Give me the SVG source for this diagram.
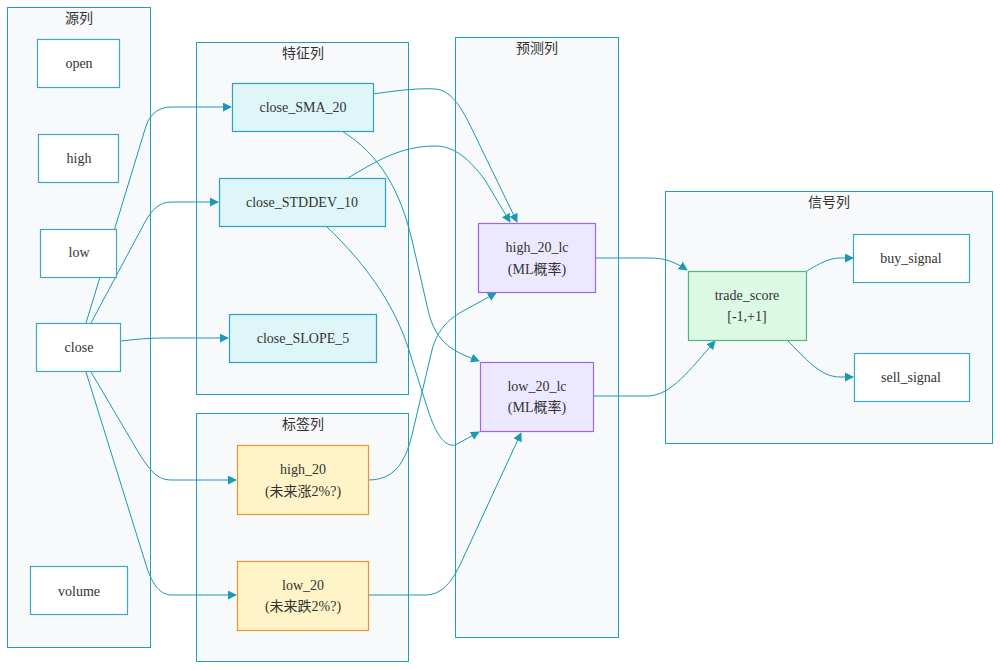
<svg xmlns="http://www.w3.org/2000/svg" width="1000" height="670" viewBox="0 0 1000 670">
<style>
.cl{fill:#f8f9fb;stroke:#1f9fba;stroke-width:1}
.ct{font-family:"Noto Sans CJK SC","Liberation Sans",sans-serif;font-size:14px;fill:#333;text-anchor:middle}
.n rect{stroke-width:1.2}
.src{fill:#ffffff;stroke:#3aaac4}
.feat{fill:#dff6f8;stroke:#2aa3bd}
.lab{fill:#fff3c8;stroke:#e8962e}
.pred{fill:#ece8ff;stroke:#a066e8}
.score{fill:#dcf9e6;stroke:#4cbb7a}
.t{font-family:'Liberation Serif','Times New Roman','Noto Sans CJK SC',serif;font-size:14px;fill:#333;text-anchor:middle}
.e{fill:none;stroke:#1a98b4;stroke-width:1;marker-end:url(#ah)}
</style>
<defs>
<marker id="ah" viewBox="0 0 10 10" refX="9" refY="5" markerWidth="9" markerHeight="9" markerUnits="userSpaceOnUse" orient="auto">
<path d="M0,0 L10,5 L0,10 z" fill="#1a98b4"/>
</marker>
</defs>
<rect width="1000" height="670" fill="#ffffff"/>
<g id="clusters">
<g id="c-src"><rect class="cl" x="7.5" y="7.5" width="143" height="640"/><text class="ct" x="79" y="23">源列</text></g>
<g id="c-feat"><rect class="cl" x="196.5" y="42.5" width="212" height="352"/><text class="ct" x="303" y="58">特征列</text></g>
<g id="c-lab"><rect class="cl" x="196.5" y="413.5" width="212" height="248"/><text class="ct" x="303" y="429">标签列</text></g>
<g id="c-pred"><rect class="cl" x="455.5" y="37.5" width="163" height="600"/><text class="ct" x="537" y="53">预测列</text></g>
<g id="c-sig"><rect class="cl" x="665.5" y="191.5" width="327" height="252"/><text class="ct" x="829" y="207">信号列</text></g>
</g>
<g id="edges">
<path class="e" d="M86,323 L146,126 C151,112 160,107 172,107 L231,107"/>
<path class="e" d="M91,323 L145,222 C153,208 160,202 172,202 L218,202"/>
<path class="e" d="M121,341 C138,339 150,338 165,338 L228,338"/>
<path class="e" d="M91,372 L140,455 C152,473 158,480 172,480 L236,480"/>
<path class="e" d="M86,372 L147,568 C153,585 160,595 172,595 L236,595"/>
<path class="e" d="M373,94 C400,90 420,88 435,89 C450,90 460,105 470,125 L517,222"/>
<path class="e" d="M348,178 C375,162 400,146 435,146 C455,146 470,160 485,180 L510,222"/>
<path class="e" d="M342,131 C380,155 400,190 412,240 L428,310 C436,345 455,352 479,361"/>
<path class="e" d="M326,226 C370,268 398,310 412,360 L428,410 C436,435 445,447 455,445 L479,432"/>
<path class="e" d="M368,480 C395,480 405,462 412,435 L432,350 C438,328 450,318 465,310 L496,293"/>
<path class="e" d="M368,595 L425,595 C440,595 450,585 460,565 L521,433"/>
<path class="e" d="M596,258 L650,258 C665,258 675,262 687,270"/>
<path class="e" d="M594,396 L648,396 C670,396 690,370 715,341"/>
<path class="e" d="M807,271 C820,263 830,258 840,258 L853,258"/>
<path class="e" d="M787,340 C805,358 820,377 840,377 L853,377"/>
</g>
<g id="n-open" class="n"><rect class="src" x="37.5" y="39.5" width="82" height="48"/><text class="t" x="79" y="68">open</text></g>
<g id="n-high" class="n"><rect class="src" x="38.5" y="134.5" width="80" height="48"/><text class="t" x="79" y="163">high</text></g>
<g id="n-low" class="n"><rect class="src" x="40.5" y="229.5" width="76" height="48"/><text class="t" x="79" y="257">low</text></g>
<g id="n-close" class="n"><rect class="src" x="36.5" y="323.5" width="84" height="48"/><text class="t" x="79" y="352">close</text></g>
<g id="n-volume" class="n"><rect class="src" x="30.5" y="566.5" width="97" height="48"/><text class="t" x="79" y="596">volume</text></g>
<g id="n-sma" class="n"><rect class="feat" x="232.5" y="83.5" width="141" height="48"/><text class="t" x="303" y="112">close_SMA_20</text></g>
<g id="n-std" class="n"><rect class="feat" x="219.5" y="178.5" width="166" height="48"/><text class="t" x="302" y="207">close_STDDEV_10</text></g>
<g id="n-slope" class="n"><rect class="feat" x="229.5" y="314.5" width="147" height="48"/><text class="t" x="303" y="343">close_SLOPE_5</text></g>
<g id="n-high20" class="n"><rect class="lab" x="237.5" y="445.5" width="131" height="69"/><text class="t" x="303" y="474">high_20</text><text class="t" x="303" y="496">(未来涨2%?)</text></g>
<g id="n-low20" class="n"><rect class="lab" x="237.5" y="561.5" width="131" height="69"/><text class="t" x="303" y="590">low_20</text><text class="t" x="303" y="611">(未来跌2%?)</text></g>
<g id="n-high20lc" class="n"><rect class="pred" x="478.5" y="223.5" width="117" height="69"/><text class="t" x="537" y="252">high_20_lc</text><text class="t" x="537" y="274">(ML概率)</text></g>
<g id="n-low20lc" class="n"><rect class="pred" x="480.5" y="362.5" width="113" height="69"/><text class="t" x="537" y="391">low_20_lc</text><text class="t" x="537" y="412">(ML概率)</text></g>
<g id="n-score" class="n"><rect class="score" x="688.5" y="271.5" width="118" height="69"/><text class="t" x="747" y="300">trade_score</text><text class="t" x="747" y="321">[-1,+1]</text></g>
<g id="n-buy" class="n"><rect class="src" x="853.5" y="234.5" width="116" height="48"/><text class="t" x="911" y="263">buy_signal</text></g>
<g id="n-sell" class="n"><rect class="src" x="854.5" y="353.5" width="115" height="48"/><text class="t" x="911" y="382">sell_signal</text></g>
</svg>
